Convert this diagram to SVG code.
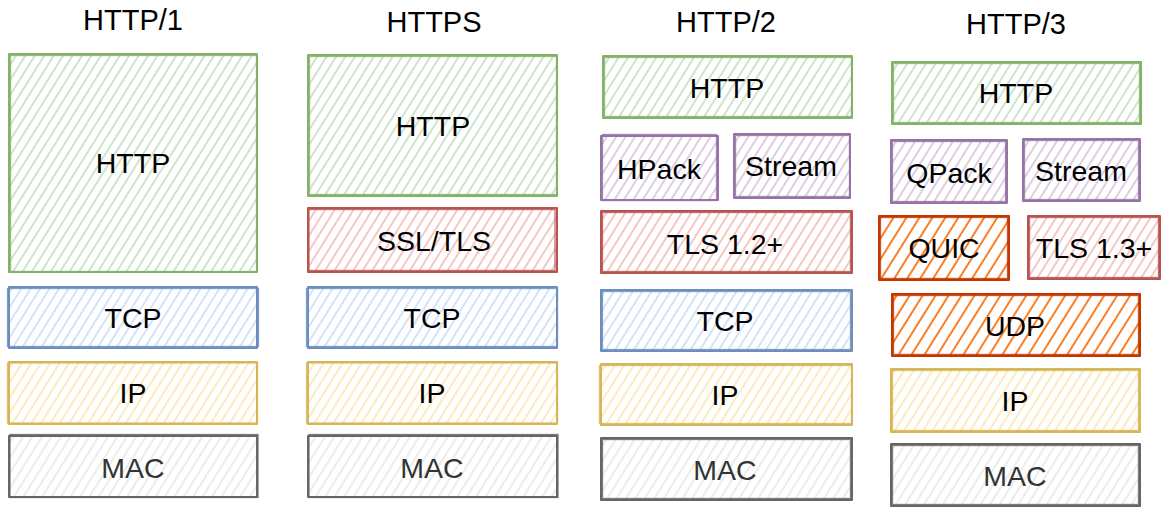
<svg xmlns="http://www.w3.org/2000/svg" width="1169" height="510" viewBox="0 0 1169 510">
<defs>
<pattern id="hg" width="8" height="8" patternUnits="userSpaceOnUse" patternTransform="rotate(32)"><line x1="3" y1="0" x2="3" y2="8" stroke="#cfe4cd" stroke-width="2"/></pattern>
<pattern id="hb" width="8" height="8" patternUnits="userSpaceOnUse" patternTransform="rotate(32)"><line x1="3" y1="0" x2="3" y2="8" stroke="#d3e3fa" stroke-width="2"/></pattern>
<pattern id="hy" width="8" height="8" patternUnits="userSpaceOnUse" patternTransform="rotate(32)"><line x1="3" y1="0" x2="3" y2="8" stroke="#fcebbe" stroke-width="2"/></pattern>
<pattern id="hk" width="8" height="8" patternUnits="userSpaceOnUse" patternTransform="rotate(32)"><line x1="3" y1="0" x2="3" y2="8" stroke="#ececec" stroke-width="2"/></pattern>
<pattern id="hr" width="8" height="8" patternUnits="userSpaceOnUse" patternTransform="rotate(32)"><line x1="3" y1="0" x2="3" y2="8" stroke="#f6c7c5" stroke-width="2"/></pattern>
<pattern id="hp" width="8" height="8" patternUnits="userSpaceOnUse" patternTransform="rotate(32)"><line x1="3" y1="0" x2="3" y2="8" stroke="#dccfe3" stroke-width="2"/></pattern>
<pattern id="ho" width="11" height="11" patternUnits="userSpaceOnUse" patternTransform="rotate(32)"><line x1="4" y1="0" x2="4" y2="11" stroke="#FA6800" stroke-width="1.7"/></pattern>
</defs>
<style>
text{font-family:"Liberation Sans",Arial,sans-serif;font-size:28.5px;text-anchor:middle;fill:#000}
.t{font-size:29px}
.m{fill:#333333}
.b{stroke-width:2;stroke-linejoin:round}
.b2{stroke-width:1.3;fill:none;stroke-opacity:0.85}
.g{stroke:#82b366}.bl{stroke:#6c8ebf}.y{stroke:#d6b656}.k{stroke:#666666}.r{stroke:#b85450}.p{stroke:#9673a6}.o{stroke:#C73500}
</style>

<g id="titles">
<text class="t" x="133" y="30">HTTP/1</text>
<text class="t" x="434" y="32">HTTPS</text>
<text class="t" x="726" y="32">HTTP/2</text>
<text class="t" x="1016" y="34">HTTP/3</text>
</g>

<!-- Column 1 -->
<g id="c1-http"><rect class="b g" x="9" y="54" width="248" height="218" fill="url(#hg)"/><rect class="b2 g" x="10.5" y="55.5" width="246" height="216"/><text x="133" y="173">HTTP</text></g>
<g id="c1-tcp"><rect class="b bl" x="9" y="287" width="248" height="61" fill="url(#hb)"/><rect class="b2 bl" x="7.5" y="288.5" width="251" height="58"/><text x="133" y="328">TCP</text></g>
<g id="c1-ip"><rect class="b y" x="9" y="362" width="248" height="62" fill="url(#hy)"/><rect class="b2 y" x="7.5" y="363" width="250" height="60"/><text x="133" y="403">IP</text></g>
<g id="c1-mac"><rect class="b k" x="9" y="436" width="248" height="61" fill="url(#hk)"/><rect class="b2 k" x="10" y="434.5" width="248" height="63"/><text class="m" x="133" y="478">MAC</text></g>

<!-- Column 2 -->
<g id="c2-http"><rect class="b g" x="308" y="55" width="249" height="141" fill="url(#hg)"/><rect class="b2 g" x="309.5" y="56.5" width="247" height="138"/><text x="433" y="136">HTTP</text></g>
<g id="c2-tls"><rect class="b r" x="308" y="208" width="249" height="64" fill="url(#hr)"/><rect class="b2 r" x="309" y="209.5" width="246" height="61"/><text x="434" y="251">SSL/TLS</text></g>
<g id="c2-tcp"><rect class="b bl" x="308" y="287" width="249" height="61" fill="url(#hb)"/><rect class="b2 bl" x="306.5" y="288.5" width="251" height="58"/><text x="432" y="328">TCP</text></g>
<g id="c2-ip"><rect class="b y" x="308" y="362" width="249" height="62" fill="url(#hy)"/><rect class="b2 y" x="306.5" y="363" width="251" height="60"/><text x="432" y="403">IP</text></g>
<g id="c2-mac"><rect class="b k" x="308" y="436" width="249" height="61" fill="url(#hk)"/><rect class="b2 k" x="309" y="434.5" width="249" height="63"/><text class="m" x="432" y="478">MAC</text></g>

<!-- Column 3 -->
<g id="c3-http"><rect class="b g" x="603" y="56" width="249" height="62" fill="url(#hg)"/><rect class="b2 g" x="604.5" y="57.5" width="247" height="59"/><text x="727" y="98">HTTP</text></g>
<g id="c3-hpack"><rect class="b p" x="601" y="136" width="117" height="64" fill="url(#hp)"/><rect class="b2 p" x="602.5" y="134.5" width="114" height="66"/><text x="659" y="179">HPack</text></g>
<g id="c3-stream"><rect class="b p" x="734" y="134" width="116" height="64" fill="url(#hp)"/><rect class="b2 p" x="735.5" y="135.5" width="114" height="61"/><text x="791" y="176">Stream</text></g>
<g id="c3-tls"><rect class="b r" x="601" y="211" width="251" height="62" fill="url(#hr)"/><rect class="b2 r" x="602.5" y="212.5" width="248" height="59"/><text x="725" y="254">TLS 1.2+</text></g>
<g id="c3-tcp"><rect class="b bl" x="601" y="290" width="251" height="61" fill="url(#hb)"/><rect class="b2 bl" x="602.5" y="291.5" width="248" height="58"/><text x="725" y="331">TCP</text></g>
<g id="c3-ip"><rect class="b y" x="601" y="364" width="251" height="61" fill="url(#hy)"/><rect class="b2 y" x="599.5" y="365.5" width="252" height="58"/><text x="725" y="405">IP</text></g>
<g id="c3-mac"><rect class="b k" x="601" y="438" width="251" height="62" fill="url(#hk)"/><rect class="b2 k" x="602.5" y="439.5" width="248" height="59"/><text class="m" x="725" y="480">MAC</text></g>

<!-- Column 4 -->
<g id="c4-http"><rect class="b g" x="892" y="62" width="249" height="62" fill="url(#hg)"/><rect class="b2 g" x="893.5" y="63.5" width="246" height="59"/><text x="1016" y="103">HTTP</text></g>
<g id="c4-qpack"><rect class="b p" x="891" y="140" width="116" height="63" fill="url(#hp)"/><rect class="b2 p" x="892.5" y="141.5" width="113" height="60"/><text x="949" y="183">QPack</text></g>
<g id="c4-stream"><rect class="b p" x="1023" y="139" width="117" height="62" fill="url(#hp)"/><rect class="b2 p" x="1024.5" y="140.5" width="114" height="59"/><text x="1081" y="181">Stream</text></g>
<g id="c4-quic"><rect class="b o" x="879" y="216" width="130" height="64" fill="url(#ho)"/><rect class="b2 o" x="880.5" y="217.5" width="127" height="61"/><text x="944" y="258">QUIC</text></g>
<g id="c4-tls"><rect class="b r" x="1028" y="216" width="132" height="63" fill="url(#hr)"/><rect class="b2 r" x="1029.5" y="217.5" width="129" height="60"/><text x="1094" y="258">TLS 1.3+</text></g>
<g id="c4-udp"><rect class="b o" x="892" y="294" width="248" height="62" fill="url(#ho)"/><rect class="b2 o" x="893.5" y="295.5" width="245" height="59"/><text x="1015" y="336">UDP</text></g>
<g id="c4-ip"><rect class="b y" x="891" y="369" width="249" height="63" fill="url(#hy)"/><rect class="b2 y" x="892.5" y="370.5" width="246" height="60"/><text x="1015" y="411">IP</text></g>
<g id="c4-mac"><rect class="b k" x="891" y="444" width="249" height="62" fill="url(#hk)"/><rect class="b2 k" x="892.5" y="445.5" width="246" height="59"/><text class="m" x="1015" y="486">MAC</text></g>

<g id="connectors"></g>
</svg>
